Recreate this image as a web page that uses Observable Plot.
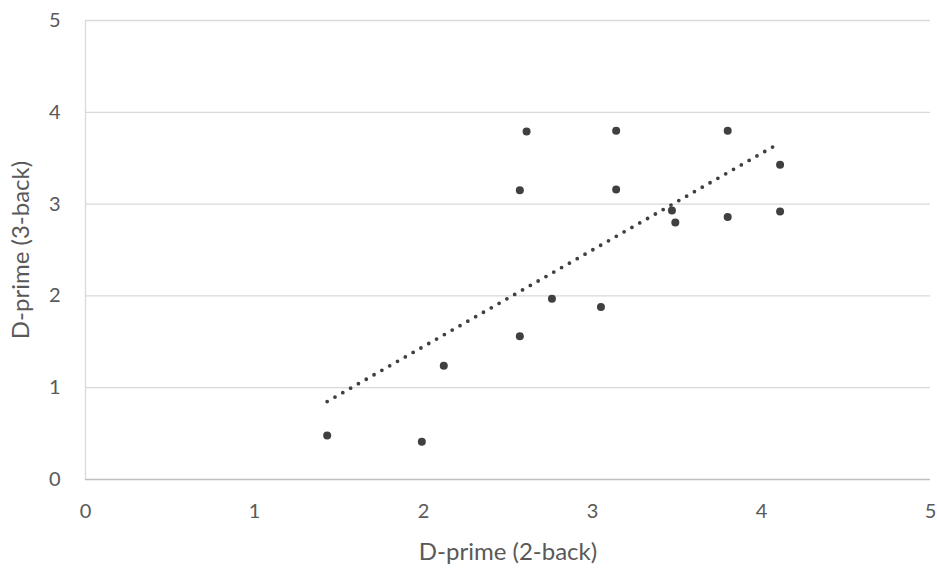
<!DOCTYPE html>
<html><head><meta charset="utf-8">
<script src="https://cdn.jsdelivr.net/npm/d3@7"></script>
<script src="https://cdn.jsdelivr.net/npm/@observablehq/plot@0.6"></script>
<style>
html,body{margin:0;padding:0;background:#fff;}
</style>
</head><body>
<div id="chart"></div>
<script>
const dprime2back = [1.43, 1.99, 2.12, 2.57, 2.76, 3.05, 2.57, 2.61, 3.14, 3.14, 3.80, 3.80, 4.11, 3.47, 3.49, 4.11];
const dprime3back = [0.48, 0.41, 1.24, 1.56, 1.97, 1.88, 3.15, 3.79, 3.80, 3.16, 3.80, 2.86, 3.43, 2.93, 2.80, 2.92];
const xTicks = [0, 1, 2, 3, 4, 5];
const yTicks = [0, 1, 2, 3, 4, 5];
const xTitle = "D-prime (2-back)";
const yTitle = "D-prime (3-back)";

const data = dprime2back.map((x, i) => ({x, y: dprime3back[i]}));

const chart = Plot.plot({
  width: 937,
  height: 568,
  marginLeft: 85,
  marginRight: 7,
  marginTop: 20,
  marginBottom: 89,
  style: {fontFamily: "Lato, 'Open Sans', sans-serif", color: "#595959", background: "#fff"},
  x: {domain: [0, 5], ticks: xTicks},
  y: {domain: [0, 5], ticks: yTicks},
  marks: [
    Plot.gridY(yTicks.filter(d => d > 0), {stroke: "#d9d9d9", strokeOpacity: 1, strokeWidth: 1.3}),
    Plot.ruleX([0], {stroke: "#d9d9d9", strokeWidth: 1.3}),
    Plot.ruleY([0], {stroke: "#bfbfbf", strokeWidth: 1.3}),
    Plot.axisX({ticks: xTicks, tickFormat: "d", tickSize: 0, tickPadding: 24, fontSize: 20, label: xTitle, labelAnchor: "center", labelArrow: "none", labelOffset: 80}),
    Plot.axisY({ticks: yTicks, tickFormat: "d", tickSize: 0, tickPadding: 25, fontSize: 20, label: yTitle, labelAnchor: "center", labelArrow: "none", labelOffset: 74}),
    Plot.linearRegressionY(data, {x: "x", y: "y", ci: 0, stroke: "#404040", strokeWidth: 3.8, strokeDasharray: "0,9", strokeLinecap: "round"}),
    Plot.dot(data, {x: "x", y: "y", r: 4, fill: "#404040", stroke: "none"})
  ]
});
d3.select(chart).selectAll("[aria-label='x-axis tick label'], [aria-label='y-axis tick label']").attr("font-size", 20).selectAll("text").attr("font-size", 20);
d3.select(chart).selectAll("[aria-label='x-axis label'] text, [aria-label='y-axis label'] text").attr("font-size", 24).attr("fill", "#595959");
document.getElementById("chart").appendChild(chart);
</script>
</body></html>
